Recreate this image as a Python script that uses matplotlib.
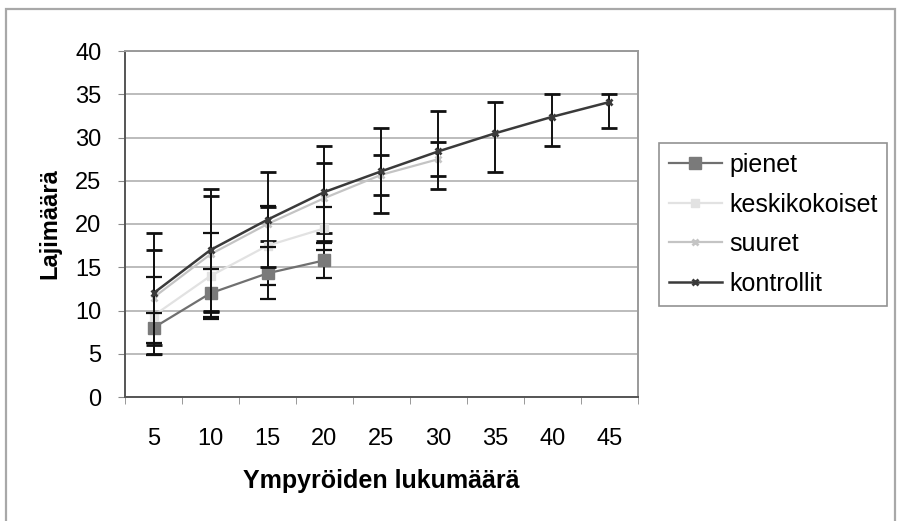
import matplotlib
matplotlib.use("Agg")
import matplotlib.pyplot as plt
from matplotlib.patches import Rectangle
from matplotlib.lines import Line2D
import numpy as np

plt.rcParams['font.family'] = ['Liberation Sans', 'DejaVu Sans']

categories = ["5", "10", "15", "20", "25", "30", "35", "40", "45"]

pienet = [8, 12, 14.3, 15.8]
pienet_err = [1.7, 2.8, 3.0, 2.0]

keskikokoiset = [9.4, 14, 17.5, 19.5]
keskikokoiset_err = [4.5, 5.0, 4.6, 2.5]

suuret = [11.5, 16.5, 20, 23, 25.7, 27.5]
suuret_err = [5.5, 6.7, 2.0, 4.0, 2.3, 2.0]

kontrollit = [12, 17, 20.5, 23.7, 26.1, 28.4, 30.5, 32.4, 34.1]
kontrollit_err_minus = [7, 7, 5.5, 5.7, 4.8, 4.4, 4.5, 3.4, 3.0]
kontrollit_err_plus = [7, 7, 5.5, 5.3, 5.0, 4.7, 3.6, 2.6, 0.9]

W, H = 898, 521
fig = plt.figure(figsize=(W / 100, H / 100), dpi=100)
ax = fig.add_axes([125 / W, 1 - 397 / H, (638 - 125) / W, (397 - 51) / H])

xs = np.arange(len(categories))

eb_kw = dict(ecolor='#111111', elinewidth=1.4, capsize=6, capthick=1.6)

ax.errorbar(xs[:len(suuret)], suuret, yerr=suuret_err, color='#c4c4c4', lw=1.6,
            marker='x', ms=5, mew=2, zorder=3, label='suuret', **eb_kw)
ax.errorbar(xs[:len(keskikokoiset)], keskikokoiset, yerr=keskikokoiset_err, color='#e2e2e2', lw=1.6,
            marker='s', ms=6, zorder=3, label='keskikokoiset', **eb_kw)
ax.errorbar(xs[:len(pienet)], pienet, yerr=pienet_err, color='#707070', lw=1.6,
            marker='s', ms=8, mfc='#7a7a7a', mec='#7a7a7a', zorder=4, label='pienet', **eb_kw)
ax.errorbar(xs, kontrollit, yerr=[kontrollit_err_minus, kontrollit_err_plus], color='#3a3a3a', lw=1.8,
            marker='x', ms=5, mew=2, zorder=5, label='kontrollit', **eb_kw)

ax.set_xlim(-0.5, len(categories) - 0.5)
ax.set_ylim(0, 40)
ax.set_yticks(np.arange(0, 41, 5))
ax.set_xticks(xs)
ax.set_xticklabels(categories)
ax.set_xticks(np.arange(-0.5, len(categories), 1), minor=True)
ax.tick_params(axis='x', which='major', length=0, pad=22, labelsize=17)
ax.tick_params(axis='x', which='minor', length=5, direction='out', color='#888888')
ax.tick_params(axis='y', length=5, direction='out', color='#888888', pad=12, labelsize=17)
ax.grid(axis='y', color='#b0b0b0', lw=1.2, zorder=0)
ax.set_axisbelow(True)
for s in ax.spines.values():
    s.set_color('#9a9a9a')
    s.set_linewidth(1.4)
ax.spines['left'].set_color('#555555')
ax.spines['bottom'].set_color('#555555')

ax.set_xlabel('Ympyröiden lukumäärä', fontsize=18, fontweight='bold', labelpad=14)
ax.set_ylabel('Lajimäärä', fontsize=17, fontweight='bold', labelpad=10)

order = ['pienet', 'keskikokoiset', 'suuret', 'kontrollit']
leg_handles = [
    Line2D([], [], color='#707070', lw=1.6, marker='s', ms=8, mfc='#7a7a7a', mec='#7a7a7a'),
    Line2D([], [], color='#e2e2e2', lw=1.6, marker='s', ms=6),
    Line2D([], [], color='#c4c4c4', lw=1.6, marker='x', ms=5, mew=2),
    Line2D([], [], color='#3a3a3a', lw=1.8, marker='x', ms=5, mew=2),
]
leg = fig.legend(leg_handles, order, loc='upper left',
                 bbox_to_anchor=(659 / W, 1 - 143 / H), fontsize=18,
                 frameon=True, fancybox=False, edgecolor='#777777',
                 handlelength=2.1, handletextpad=0.3, labelspacing=0.62,
                 borderpad=0.4, borderaxespad=0)
leg.get_frame().set_linewidth(1.2)

fig.patches.append(Rectangle((6 / W, -0.01), (895 - 6) / W, 1 - 9 / H + 0.01,
                             transform=fig.transFigure, fill=False,
                             edgecolor='#a8a8a8', lw=1.6))

fig.savefig('out.png', dpi=100)
